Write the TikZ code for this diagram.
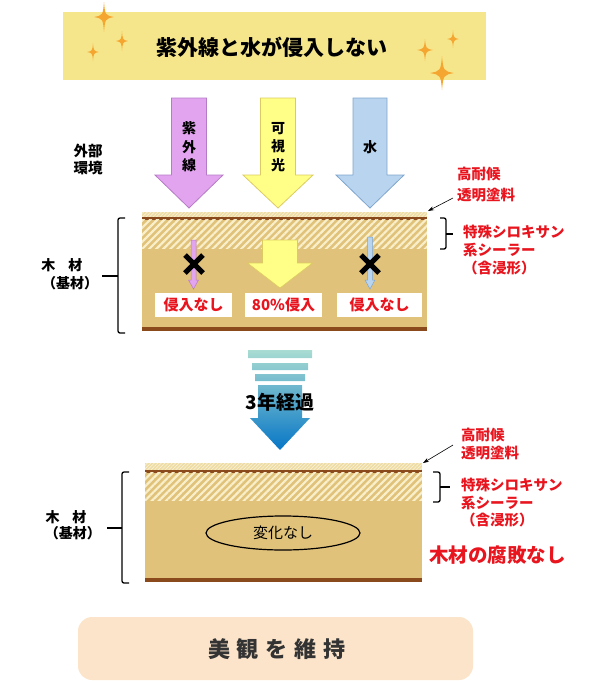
\documentclass[tikz,border=0pt]{standalone}
\usepackage{fontspec}
\setmainfont{Noto Sans CJK JP}
\usetikzlibrary{patterns.meta,shapes.geometric,arrows.meta}
\definecolor{banner}{HTML}{F5E68C}
\definecolor{spark}{HTML}{F5A630}
\definecolor{purp}{HTML}{E2A4EE}
\definecolor{purpb}{HTML}{B67BC6}
\definecolor{yel}{HTML}{FFFF88}
\definecolor{yelb}{HTML}{DCCB60}
\definecolor{blu}{HTML}{B9D4EE}
\definecolor{blub}{HTML}{7FA6CF}
\definecolor{wood}{HTML}{E1C27A}
\definecolor{coat}{HTML}{EEDCA2}
\definecolor{brown}{HTML}{8A4A1C}
\definecolor{hatchc}{HTML}{F9EFCA}
\definecolor{redt}{HTML}{E8141E}
\definecolor{peach}{HTML}{FCE4CA}
\definecolor{arrtop}{HTML}{A9DCD2}
\definecolor{arrbot}{HTML}{0676C6}
\newcommand\sparkle[4]{\fill[spark] (#1,#2-#3) .. controls (#1+0.12*#4,#2-0.12*#3) .. (#1+#4,#2) .. controls (#1+0.12*#4,#2+0.12*#3) .. (#1,#2+#3) .. controls (#1-0.12*#4,#2+0.12*#3) .. (#1-#4,#2) .. controls (#1-0.12*#4,#2-0.12*#3) .. cycle;}
% cx, ytop, shaft hw, yhead, head hw, ytip
\newcommand\dnarrow[7]{\filldraw[#1] (#2-#3,#4) -- (#2+#3,#4) -- (#2+#3,#5) -- (#2+#6,#5) -- (#2,#7) -- (#2-#6,#5) -- (#2-#3,#5) -- cycle;}
\newcommand\woodblock[8]{%
 \fill[wood] (#1,#3) rectangle (#2,#8);
 \fill[coat] (#1,#3) rectangle (#2,#4);
 \fill[pattern={Lines[angle=45,distance=2.5pt,line width=0.7pt]},pattern color=white!60!coat] (#1,#3) rectangle (#2,#4);
 \fill[brown] (#1,#4) rectangle (#2,#4+2.5);
 \fill[pattern={Lines[angle=45,distance=5pt,line width=2.2pt]},pattern color=hatchc] (#1,#4+2.5) rectangle (#2,#5);
 \fill[brown] (#1,#7) rectangle (#2,#8);}
\tikzset{
 jp/.style={font=\bfseries\fontsize{#1}{#1}\selectfont, inner sep=0pt},
 redl/.style={font=\bfseries\fontsize{14.5}{14.5}\selectfont, text=redt, inner sep=0pt, anchor=west},
 lbox/.style={fill=white, inner sep=0pt, text=redt, font=\bfseries\fontsize{15}{15}\selectfont},
 brace/.style={line width=1.3pt, rounded corners=2pt},
 cross/.style={line width=5pt},
 ptr/.style={-{Stealth[length=6pt,width=4pt]}, line width=0.6pt},
}
\begin{document}
\begin{tikzpicture}[x=1pt,y=-1pt]
\useasboundingbox (0,0) rectangle (611,681);
% banner
\node[fill=banner, minimum width=423pt, minimum height=68pt, inner sep=0pt] (banner) at (274.5,46) {};
\node[jp=21] (title) at (272,47) {紫外線と水が侵入しない};
\sparkle{104}{17}{15}{10}
\sparkle{122}{41}{10}{6}
\sparkle{93}{52}{9}{6}
\sparkle{425}{50}{11}{8}
\sparkle{453}{39}{9}{6}
\sparkle{442}{73}{17}{12}
% outer environment
\node[jp=14.5, align=center, font=\bfseries\fontsize{14.5}{17}\selectfont] (env) at (88,160) {外部\\環境};
\dnarrow{fill=purp, draw=purpb, line width=0.8pt}{189}{17.5}{98}{175}{34}{208}
\dnarrow{fill=yel, draw=yelb, line width=0.8pt}{278}{17.5}{98}{175}{35}{208}
\dnarrow{fill=blu, draw=blub, line width=0.8pt}{370}{17}{98}{175}{34}{208}
\node[jp=14, align=center, font=\bfseries\fontsize{14}{18.5}\selectfont] (uv) at (189,147) {紫\\外\\線};
\node[jp=14, align=center, font=\bfseries\fontsize{14}{18.5}\selectfont] (vis) at (278,147) {可\\視\\光};
\node[jp=14] (water) at (370,147) {水};
% block 1
\woodblock{142}{427}{212}{217}{248}{0}{327}{331}
\dnarrow{fill=purp, draw=purpb, line width=0.5pt}{193.5}{2.5}{240}{280}{5}{289}
\dnarrow{fill=yel, draw=yelb, line width=0.6pt}{280}{17.5}{240}{263}{32.5}{288}
\dnarrow{fill=blu, draw=blub, line width=0.5pt}{370}{2.5}{237}{280}{5}{289}
\draw[cross] (185,255) -- (203,273) (185,273) -- (203,255);
\draw[cross] (361,255) -- (379,273) (361,273) -- (379,255);
\node[lbox, minimum width=77pt, minimum height=24pt] (n1) at (193.5,305) {侵入なし};
\node[lbox, minimum width=77pt, minimum height=24pt] (n2) at (283.5,305) {80\%侵入};
\node[lbox, minimum width=85pt, minimum height=24pt] (n3) at (379.5,305) {侵入なし};
\draw[brace] (125,218) -- (118,218) -- (118,333) -- (125,333);
\draw[line width=1.3pt] (118,276) -- (102,276);
\node[jp=14] (wa) at (62,265) {木\hspace{13pt}材};
\node[jp=14] (wb) at (70,283) {（基材）};
\draw[brace] (440,218) -- (446,218) -- (446,249) -- (440,249);
\draw[line width=1.3pt] (446,234) -- (453,234);
\coordinate (p1s) at (453,198);
\coordinate (p1e) at (428,211);
\draw[ptr] (p1s) -- (p1e);
\node[redl] (a1) at (457,174) {高耐候};
\node[redl] (a2) at (457,195) {透明塗料};
\node[redl] (a3) at (463,232) {特殊シロキサン};
\node[redl] (a4) at (463,250) {系シーラー};
\node[redl] (a5) at (463,268) {（含浸形）};
% 3 years arrow
\shade[top color=arrtop, bottom color=arrbot]
 (248,350) rectangle (312,358)
 (252,363) rectangle (308,370)
 (255,374) rectangle (305,381)
 (258,385) -- (302,385) -- (302,418) -- (310,418) -- (280,450) -- (250,418) -- (258,418) -- cycle;
\node[jp=19] (yrs) at (280,402) {3年経過};
% block 2
\woodblock{145}{422}{463}{470}{500}{0}{578}{582}
\node[draw, line width=1.2pt, ellipse, minimum width=154pt, minimum height=34pt, inner sep=0pt] (ell) at (283,533) {};
\node[jp=15, font=\fontsize{15}{15}\selectfont] (nochg) at (283,533) {変化なし};
\draw[brace] (129,472) -- (122,472) -- (122,583) -- (129,583);
\draw[line width=1.3pt] (122,528) -- (107,528);
\node[jp=14] (wc) at (66,517) {木\hspace{13pt}材};
\node[jp=14] (wd) at (73,533) {（基材）};
\draw[brace] (433,472) -- (440,472) -- (440,502) -- (433,502);
\draw[line width=1.3pt] (440,487) -- (450,487);
\coordinate (p2s) at (453,445);
\coordinate (p2e) at (423,463);
\draw[ptr] (p2s) -- (p2e);
\node[redl] (b1) at (461,435) {高耐候};
\node[redl] (b2) at (461,453) {透明塗料};
\node[redl] (b3) at (461,485) {特殊シロキサン};
\node[redl] (b4) at (461,503) {系シーラー};
\node[redl] (b5) at (461,520) {（含浸形）};
\node[redl, font=\bfseries\fontsize{19.5}{19.5}\selectfont] (rot) at (429,555) {木材の腐敗なし};
% bottom
\node[fill=peach, rounded corners=14pt, minimum width=395pt, minimum height=63pt, inner sep=0pt] (keep) at (275.5,648.5) {};
\node[jp=22, text=black!80] (keept) at (277,649) {美\hspace{7pt}観\hspace{7pt}を\hspace{7pt}維\hspace{7pt}持};
\end{tikzpicture}
\end{document}
